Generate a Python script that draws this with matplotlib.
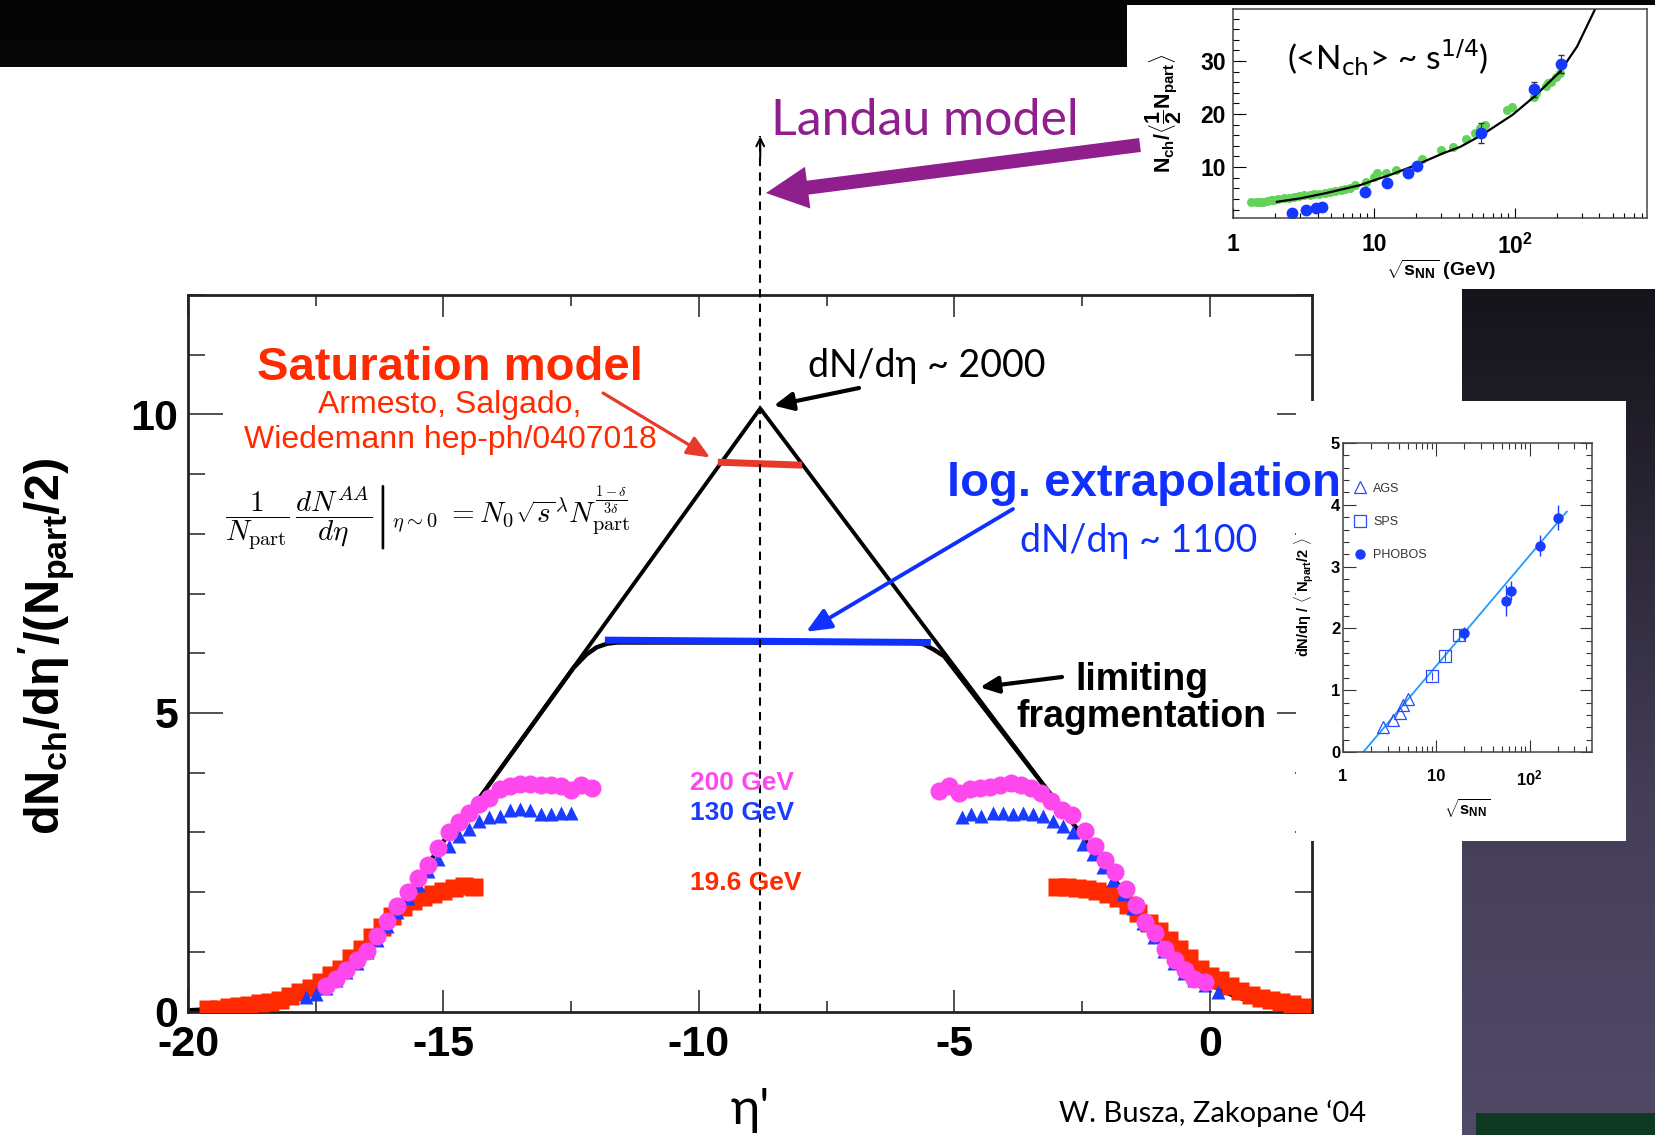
import numpy as np
import matplotlib
matplotlib.use("Agg")
import matplotlib.pyplot as plt
from matplotlib.colors import LinearSegmentedColormap
from matplotlib.patches import Rectangle, FancyArrow
from matplotlib.ticker import MultipleLocator, FixedLocator, LogLocator, NullFormatter

W, H = 1655, 1135          # canvas size in pixels (dpi 100)

### === main panel: dN/deta' per participant pair vs eta' ===
# 200 GeV (left and right copies)
eta_200_l = [-17.3, -17.1, -16.9, -16.7, -16.5, -16.3, -16.1, -15.9, -15.7, -15.5, -15.3, -15.1, -14.9, -14.7,
             -14.5, -14.3, -14.1, -13.9, -13.7, -13.5, -13.3, -13.1, -12.9, -12.7, -12.5, -12.3, -12.1]
dn_200_l = [0.42, 0.55, 0.70, 0.86, 1.02, 1.27, 1.52, 1.76, 2.00, 2.24, 2.45, 2.73, 3.00, 3.18,
            3.33, 3.47, 3.58, 3.72, 3.78, 3.81, 3.81, 3.80, 3.80, 3.78, 3.71, 3.79, 3.74]
eta_200_r = [-5.3, -5.1, -4.9, -4.7, -4.5, -4.3, -4.1, -3.9, -3.7, -3.5, -3.3, -3.1, -2.9, -2.7,
             -2.45, -2.25, -2.05, -1.85, -1.65, -1.45, -1.27, -1.08, -0.88, -0.69, -0.49, -0.3, -0.1]
dn_200_r = [3.70, 3.78, 3.66, 3.72, 3.75, 3.76, 3.80, 3.83, 3.80, 3.75, 3.66, 3.53, 3.38, 3.29,
            3.03, 2.78, 2.53, 2.33, 2.05, 1.78, 1.50, 1.31, 1.05, 0.86, 0.69, 0.55, 0.50]

# 130 GeV
eta_130_l = [-17.7, -17.5, -17.3, -17.1, -16.9, -16.7, -16.5, -16.3, -16.1, -15.9, -15.7, -15.5, -15.3, -15.1,
             -14.9, -14.7, -14.5, -14.3, -14.1, -13.9, -13.7, -13.5, -13.3, -13.1, -12.9, -12.7, -12.5]
dn_130_l = [0.25, 0.30, 0.40, 0.52, 0.66, 0.82, 1.00, 1.20, 1.43, 1.66, 1.90, 2.12, 2.35, 2.56,
            2.78, 2.94, 3.06, 3.19, 3.25, 3.27, 3.37, 3.39, 3.37, 3.30, 3.30, 3.32, 3.33]
eta_130_r = [-4.86, -4.67, -4.47, -4.24, -4.05, -3.85, -3.66, -3.46, -3.26, -3.07, -2.87, -2.68, -2.48,
             -2.29, -2.1, -1.9, -1.7, -1.5, -1.3, -1.1, -0.9, -0.7, -0.5, -0.3, -0.1, 0.16]
dn_130_r = [3.25, 3.30, 3.28, 3.33, 3.33, 3.30, 3.33, 3.31, 3.28, 3.19, 3.11, 3.00, 2.80,
            2.64, 2.42, 2.20, 1.97, 1.73, 1.48, 1.25, 1.02, 0.82, 0.65, 0.52, 0.44, 0.33]

# 19.6 GeV
eta_19_l = [-19.6, -19.4, -19.2, -19.0, -18.8, -18.6, -18.4, -18.2, -18.0, -17.8, -17.6, -17.4, -17.2, -17.0,
            -16.8, -16.6, -16.4, -16.2, -16.0, -15.8, -15.6, -15.4, -15.2, -15.0, -14.8, -14.6, -14.4]
dn_19_l = [0.04, 0.05, 0.08, 0.09, 0.11, 0.14, 0.16, 0.20, 0.26, 0.33, 0.40, 0.50, 0.61, 0.72,
           0.89, 1.05, 1.24, 1.41, 1.60, 1.75, 1.85, 1.91, 1.97, 2.01, 2.07, 2.11, 2.08]
eta_19_r = [-3.0, -2.8, -2.6, -2.4, -2.2, -2.0, -1.8, -1.6, -1.4, -1.2, -1.0, -0.8, -0.6, -0.4,
            -0.2, 0.0, 0.2, 0.4, 0.6, 0.8, 1.0, 1.2, 1.4, 1.6, 1.8]
dn_19_r = [2.08, 2.08, 2.07, 2.05, 2.02, 1.97, 1.90, 1.79, 1.65, 1.49, 1.34, 1.20, 1.04, 0.89,
           0.72, 0.60, 0.52, 0.42, 0.34, 0.28, 0.22, 0.19, 0.16, 0.13, 0.08]

# limiting fragmentation + log extrapolation envelope
lf_eta = [-20.0, -19.0, -18.0, -17.5, -17.0, -16.5, -16.0, -15.5, -15.0, -14.3, -12.45, -12.2, -12.0,
          -11.8, -11.6, -5.8, -5.6, -5.4, -5.2, -3.1, -2.5, -2.0, -1.5, -1.0, -0.5, 0.0, 0.5, 1.0, 2.0]
lf_dn = [0.02, 0.06, 0.20, 0.38, 0.65, 1.00, 1.55, 2.20, 2.85, 3.57, 5.76, 5.98, 6.10,
         6.16, 6.18, 6.18, 6.15, 6.06, 5.95, 3.62, 2.95, 2.35, 1.80, 1.28, 0.80, 0.45, 0.25, 0.12, 0.03]

# Landau triangle
eta_peak, dn_peak = -8.8, 10.1
landau_eta = [-14.3, eta_peak, -3.1]
landau_dn = [3.57, dn_peak, 3.62]

# saturation and log-extrapolation levels
sat_eta = [-9.63, -7.98]
sat_dn = [9.20, 9.15]
log_eta = [-11.84, -5.46]
log_dn = [6.22, 6.18]

### === top inset: Nch per participant pair vs sqrt(s) ===
nch_green_s = [1.35, 1.45, 1.55, 1.64, 1.75, 1.85, 1.94, 2.1, 2.29, 2.5, 2.71, 2.95, 3.2, 3.5, 3.79, 4.1,
               4.48, 4.9, 5.29, 5.8, 6.26, 6.8, 7.39, 8.73, 10.05, 10.6, 12.2, 14.4, 21.9, 29.8, 36.2,
               45.2, 52, 56.5, 61.5, 88.3, 96, 138, 142, 168, 172, 182, 198, 210]
nch_green = [3.45, 3.45, 3.5, 3.45, 3.6, 3.7, 3.77, 3.9, 4.09, 4.25, 4.4, 4.55, 4.72, 4.8, 4.9, 5.0,
             5.15, 5.3, 5.53, 5.65, 5.79, 6.1, 6.6, 7.23, 8.17, 8.8, 8.8, 9.43, 11.45, 13.2, 13.8,
             15.2, 16.5, 17.3, 17.9, 20.75, 21.4, 23.3, 23.9, 25.2, 25.8, 26.1, 27.0, 27.7]
nch_blue_s = [2.64, 3.3, 3.88, 4.3, 8.6, 12.5, 17.5, 20.1, 58, 138, 214]
nch_blue = [1.3, 1.9, 2.2, 2.5, 5.3, 7.0, 8.9, 10.2, 16.4, 24.7, 29.4]
nch_blue_err = [0.2, 0.2, 0.2, 0.2, 0.3, 0.3, 0.3, 0.3, 1.9, 1.4, 1.7]
nch_fit_s = [2.05, 3.0, 4.5, 8.0, 10, 13.3, 20, 31, 41, 58, 96, 138, 210, 277, 376]
nch_fit = [3.45, 4.1, 5.05, 6.6, 7.5, 8.6, 10.4, 12.6, 13.8, 16.0, 19.8, 23.3, 28.0, 32.7, 40.0]

### === right inset: midrapidity dN/deta per pair vs sqrt(s_NN) ===
ags_s = [2.7, 3.46, 4.08, 4.4, 4.93]
ags_dn = [0.41, 0.52, 0.63, 0.76, 0.86]
sps_s = [9.0, 12.3, 17.3]
sps_dn = [1.23, 1.55, 1.89]
sps_err = [0.07, 0.08, 0.1]
phobos_s = [19.6, 56, 62.4, 130, 200]
phobos_dn = [1.92, 2.45, 2.61, 3.34, 3.79]
phobos_err = [0.1, 0.25, 0.15, 0.17, 0.2]
fit_s = [1.65, 250]
fit_dn = [0.0, 3.89]


def fig_rect(x0, y0, x1, y1):
    # pixel box, origin top-left -> figure fraction [left, bottom, width, height]
    return [x0 / W, 1 - y1 / H, (x1 - x0) / W, (y1 - y0) / H]


plt.rcParams['font.family'] = ['Liberation Sans', 'DejaVu Sans']
plt.rcParams['axes.unicode_minus'] = False
plt.rcParams['mathtext.fontset'] = 'custom'
plt.rcParams['mathtext.rm'] = 'Liberation Sans:bold'
plt.rcParams['mathtext.it'] = 'Liberation Sans:bold'
plt.rcParams['mathtext.bf'] = 'Liberation Sans:bold'
plt.rcParams['mathtext.sf'] = 'Liberation Sans:bold'
GILL = ['Lato', 'DejaVu Sans']

RED = '#ff2a00'
BLUE = '#1030ff'
MAGENTA = '#ff47ee'
PURPLE = '#8e1f8c'

fig = plt.figure(figsize=(W / 100, H / 100), dpi=100)

### --- slide background ---
bg = fig.add_axes([0, 0, 1, 1], zorder=0)
slide_cmap = LinearSegmentedColormap.from_list(
    'slide', [(0, '#040404'), (0.3, '#19171f'), (0.7, '#443e57'), (1, '#514a68')])
bg.imshow(np.linspace(0, 1, 256).reshape(-1, 1), extent=(0, W, H, 0), aspect='auto', cmap=slide_cmap)
for x0, y0, x1, y1 in [(0, 67, 1462, H), (1127, 5, W, 289)]:
    bg.add_patch(Rectangle((x0, y0), x1 - x0, y1 - y0, facecolor='white', edgecolor='none'))
bg.add_patch(Rectangle((1476, 1113), W - 1476, H - 1113, facecolor='#0e3a23', edgecolor='none'))
bg.set_xlim(0, W)
bg.set_ylim(H, 0)
bg.axis('off')

# white card under the right inset, sits above the main frame
fig.add_artist(Rectangle((1296 / W, 1 - 841 / H), 330 / W, 440 / H, transform=fig.transFigure,
                         facecolor='white', edgecolor='none', zorder=2))

### --- main panel ---
ax = fig.add_axes(fig_rect(188, 295, 1312, 1011.5), zorder=1)
ax.plot(lf_eta, lf_dn, color='black', lw=3.2, zorder=2)
ax.plot(landau_eta, landau_dn, color='black', lw=2.8, zorder=2)
ax.plot(sat_eta, sat_dn, color='#e8382a', lw=5, solid_capstyle='butt', zorder=3)
ax.plot(log_eta, log_dn, color=BLUE, lw=5, solid_capstyle='butt', zorder=3)
for xs, ys in [(eta_19_l, dn_19_l), (eta_19_r, dn_19_r)]:
    ax.plot(xs, ys, 's', ms=12.5, color=RED, mec='none', zorder=4)
for xs, ys in [(eta_130_l, dn_130_l), (eta_130_r, dn_130_r)]:
    ax.plot(xs, ys, '^', ms=10, color='#1a3cff', mec='none', zorder=5)
for xs, ys in [(eta_200_l, dn_200_l), (eta_200_r, dn_200_r)]:
    ax.plot(xs, ys, 'o', ms=13, color=MAGENTA, mec='none', zorder=6)

# mid-rapidity marker running up to the Landau label
ax.plot([eta_peak, eta_peak], [0, 14.66], color='black', lw=1.5, ls=(0, (4, 3)), clip_on=False, zorder=7)
ax.annotate('', xy=(eta_peak, 14.66), xytext=(eta_peak, 14.3), annotation_clip=False,
            arrowprops=dict(arrowstyle='->', lw=1.5, color='black', shrinkA=0, shrinkB=0, mutation_scale=14))

ax.set_xlim(-20, 2)
ax.set_ylim(0, 12)
ax.set_xticks([-20, -15, -10, -5, 0])
ax.xaxis.set_minor_locator(MultipleLocator(2.5))
ax.set_yticks([0, 5, 10])
ax.yaxis.set_minor_locator(MultipleLocator(1))
ax.tick_params(which='both', direction='in', top=True, right=True, width=1.1, color='#222222')
ax.tick_params(axis='x', which='major', length=16, pad=10, labelsize=31)
ax.tick_params(axis='x', which='minor', length=8)
ax.tick_params(axis='y', which='major', length=25, pad=7, labelsize=31)
ax.tick_params(axis='y', which='minor', length=12.5)
for lab in ax.get_xticklabels() + ax.get_yticklabels():
    lab.set_fontweight('bold')
for sp in ax.spines.values():
    sp.set_linewidth(2.0)
    sp.set_color('#222222')

ax.set_ylabel(r"$dN_{ch}/d\eta'/(N_{part}/2)$", fontsize=35, va='center')
ax.yaxis.set_label_coords(-0.1255, 0.51)
ax.set_xlabel("η'", fontsize=36, family=GILL, va='center')
ax.xaxis.set_label_coords(0.5, -0.138)

### --- top inset ---
ax_t = fig.add_axes(fig_rect(1233, 9, 1647, 218), zorder=3)
ax_t.set_xscale('log')
ax_t.plot(nch_green_s, nch_green, 'o', ms=6.5, color='#62d25a', mec='none')
ax_t.errorbar(nch_blue_s, nch_blue, yerr=nch_blue_err, fmt='o', ms=8.5, color='#1538ff', mec='none',
              ecolor='#333333', elinewidth=0.8, capsize=2)
ax_t.plot(nch_fit_s, nch_fit, color='black', lw=1.6)
ax_t.set_xlim(1, 870)
ax_t.set_ylim(0.4, 39.8)
ax_t.xaxis.set_major_locator(FixedLocator([1, 10, 100]))
ax_t.set_xticklabels(['1', '10', r'$10^{2}$'])
ax_t.xaxis.set_minor_locator(LogLocator(base=10, subs=np.arange(2, 10)))
ax_t.xaxis.set_minor_formatter(NullFormatter())
ax_t.set_yticks([10, 20, 30])
ax_t.yaxis.set_minor_locator(MultipleLocator(2))
ax_t.tick_params(which='both', direction='in', width=0.8)
ax_t.tick_params(axis='y', which='major', length=9, pad=5, labelsize=16.5)
ax_t.tick_params(axis='y', which='minor', length=4.5)
ax_t.tick_params(axis='x', which='major', length=7, pad=11, labelsize=16.5)
ax_t.tick_params(axis='x', which='minor', length=3.5)
for lab in ax_t.get_xticklabels() + ax_t.get_yticklabels():
    lab.set_fontweight('bold')
for sp in ax_t.spines.values():
    sp.set_linewidth(1.1)
    sp.set_color('#444444')
ax_t.set_ylabel(r'$N_{ch}/\langle\dfrac{1}{2}N_{part}\rangle$', fontsize=15.5, va='center')
ax_t.yaxis.set_label_coords(-0.167, 0.5)
ax_t.set_xlabel(r'$\sqrt{s_{NN}}$ (GeV)', fontsize=14, fontweight='bold', va='center')
ax_t.xaxis.set_label_coords(0.502, -0.249)

### --- right inset ---
ax_r = fig.add_axes(fig_rect(1343, 443, 1592, 752), zorder=3)
ax_r.set_xscale('log')
ax_r.plot(fit_s, fit_dn, color='#1f9cff', lw=1.3)
ax_r.errorbar(sps_s, sps_dn, yerr=sps_err, fmt='none', ecolor='#2a4bff', elinewidth=0.8)
ax_r.errorbar(phobos_s, phobos_dn, yerr=phobos_err, fmt='none', ecolor='#1a3cff', elinewidth=1.0)
ax_r.plot(ags_s, ags_dn, '^', ms=8, mfc='none', mec='#2a4bff', mew=0.9, label='AGS')
ax_r.plot(sps_s, sps_dn, 's', ms=8, mfc='none', mec='#2a4bff', mew=0.9, label='SPS')
ax_r.plot(phobos_s, phobos_dn, 'o', ms=7.5, color='#1a3cff', mec='none', label='PHOBOS')
ax_r.set_xlim(1, 465)
ax_r.set_ylim(0, 5)
ax_r.xaxis.set_major_locator(FixedLocator([1, 10, 100]))
ax_r.set_xticklabels(['1', '10', r'$10^{2}$'])
ax_r.xaxis.set_minor_locator(LogLocator(base=10, subs=np.arange(2, 10)))
ax_r.xaxis.set_minor_formatter(NullFormatter())
ax_r.yaxis.set_major_locator(MultipleLocator(1))
ax_r.yaxis.set_minor_locator(MultipleLocator(0.2))
ax_r.tick_params(which='both', direction='in', top=True, right=True, width=0.8, color='#333333')
ax_r.tick_params(axis='x', which='major', length=9, pad=12, labelsize=12)
ax_r.tick_params(axis='x', which='minor', length=4.5)
ax_r.tick_params(axis='y', which='major', length=9, pad=2, labelsize=12)
ax_r.tick_params(axis='y', which='minor', length=4.5)
for lab in ax_r.get_xticklabels() + ax_r.get_yticklabels():
    lab.set_fontweight('bold')
for sp in ax_r.spines.values():
    sp.set_linewidth(1.1)
    sp.set_color('#444444')
ax_r.set_ylabel(r'$dN/d\eta\ /\ \langle\ N_{part}/2\ \rangle$', fontsize=10.5, va='center')
ax_r.yaxis.set_label_coords(-0.153, 0.502)
ax_r.set_xlabel(r'$\sqrt{s_{NN}}$', fontsize=12, va='center')
ax_r.xaxis.set_label_coords(0.498, -0.181)
ax_r.legend(loc='upper left', bbox_to_anchor=(0.01, 0.9), frameon=False, fontsize=9, handlelength=0.9,
            handletextpad=0.6, labelspacing=1.7, borderaxespad=0.3, labelcolor='#333333')

### --- overlay: slide annotations in pixel coordinates ---
ov = fig.add_axes([0, 0, 1, 1], zorder=5)
ov.set_xlim(0, W)
ov.set_ylim(H, 0)
ov.axis('off')

ov.text(450, 380, 'Saturation model', color=RED, fontsize=34, fontweight='bold', ha='center', va='baseline')
ov.text(450, 413, 'Armesto, Salgado,', color=RED, fontsize=23, ha='center', va='baseline')
ov.text(450, 448, 'Wiedemann hep-ph/0407018', color=RED, fontsize=23, ha='center', va='baseline')
ov.text(428, 518,
        r'${\left.\dfrac{1}{N_{\mathrm{part}}}\,\dfrac{dN^{AA}}{d\eta}\right|}_{\eta\sim0}'
        r'\ = N_0{\sqrt{s}}^{\lambda}N_{\mathrm{part}}^{\frac{1-\delta}{3\delta}}$',
        fontsize=21, math_fontfamily='cm', ha='center', va='center')
ov.text(808, 377, 'dN/dη ~ 2000', fontsize=27, family=GILL, va='baseline')
ov.text(947, 496, 'log. extrapolation', color=BLUE, fontsize=34, fontweight='bold', va='baseline')
ov.text(1020, 552, 'dN/dη ~ 1100', color=BLUE, fontsize=27, family=GILL, va='baseline')
ov.text(1142, 690, 'limiting', fontsize=27, fontweight='bold', ha='center', va='baseline')
ov.text(1141, 727, 'fragmentation', fontsize=27, fontweight='bold', ha='center', va='baseline')
ov.text(690, 790, '200 GeV', color=MAGENTA, fontsize=19, fontweight='bold', va='baseline')
ov.text(690, 820, '130 GeV', color='#1a3cff', fontsize=19, fontweight='bold', va='baseline')
ov.text(690, 890, '19.6 GeV', color=RED, fontsize=19, fontweight='bold', va='baseline')
ov.text(771, 135, 'Landau model', color=PURPLE, fontsize=36, family=GILL, va='baseline')
ov.text(1388, 58, r'(<N$_{\mathrm{ch}}$> ~ s$^{\mathrm{1/4}}$)', fontsize=24, family=GILL,
        math_fontfamily='dejavusans', ha='center', va='center')
ov.text(1059, 1122, 'W. Busza, Zakopane \u201804', fontsize=21, family=GILL, va='baseline')

# arrows from the labels to the curves
ov.annotate('', xy=(eta_peak, dn_peak), xycoords=ax.transData, xytext=(859, 388), textcoords='data',
            arrowprops=dict(arrowstyle='-|>,head_length=1.15,head_width=0.55', lw=3, color='black',
                            shrinkA=0, shrinkB=10))
ov.annotate('', xy=(sat_eta[0], sat_dn[0]), xycoords=ax.transData, xytext=(603, 393), textcoords='data',
            arrowprops=dict(arrowstyle='-|>,head_length=1.4,head_width=0.6', lw=2.3, color='#e8392a',
                            shrinkA=0, shrinkB=6.5))
ov.annotate('', xy=(-7.9, 6.36), xycoords=ax.transData, xytext=(1013, 509), textcoords='data',
            arrowprops=dict(arrowstyle='-|>,head_length=1.5,head_width=0.65', lw=2.8, color=BLUE,
                            shrinkA=0, shrinkB=0))
ov.annotate('', xy=(-4.5, 5.43), xycoords=ax.transData, xytext=(1062, 677), textcoords='data',
            arrowprops=dict(arrowstyle='-|>,head_length=1.1,head_width=0.5', lw=3, color='black',
                            shrinkA=0, shrinkB=0))
ov.add_patch(FancyArrow(1140, 145, 766 - 1140, 193 - 145, width=14, head_width=42, head_length=42,
                        length_includes_head=True, color=PURPLE, lw=0))

fig.savefig('out.png', dpi=100)
